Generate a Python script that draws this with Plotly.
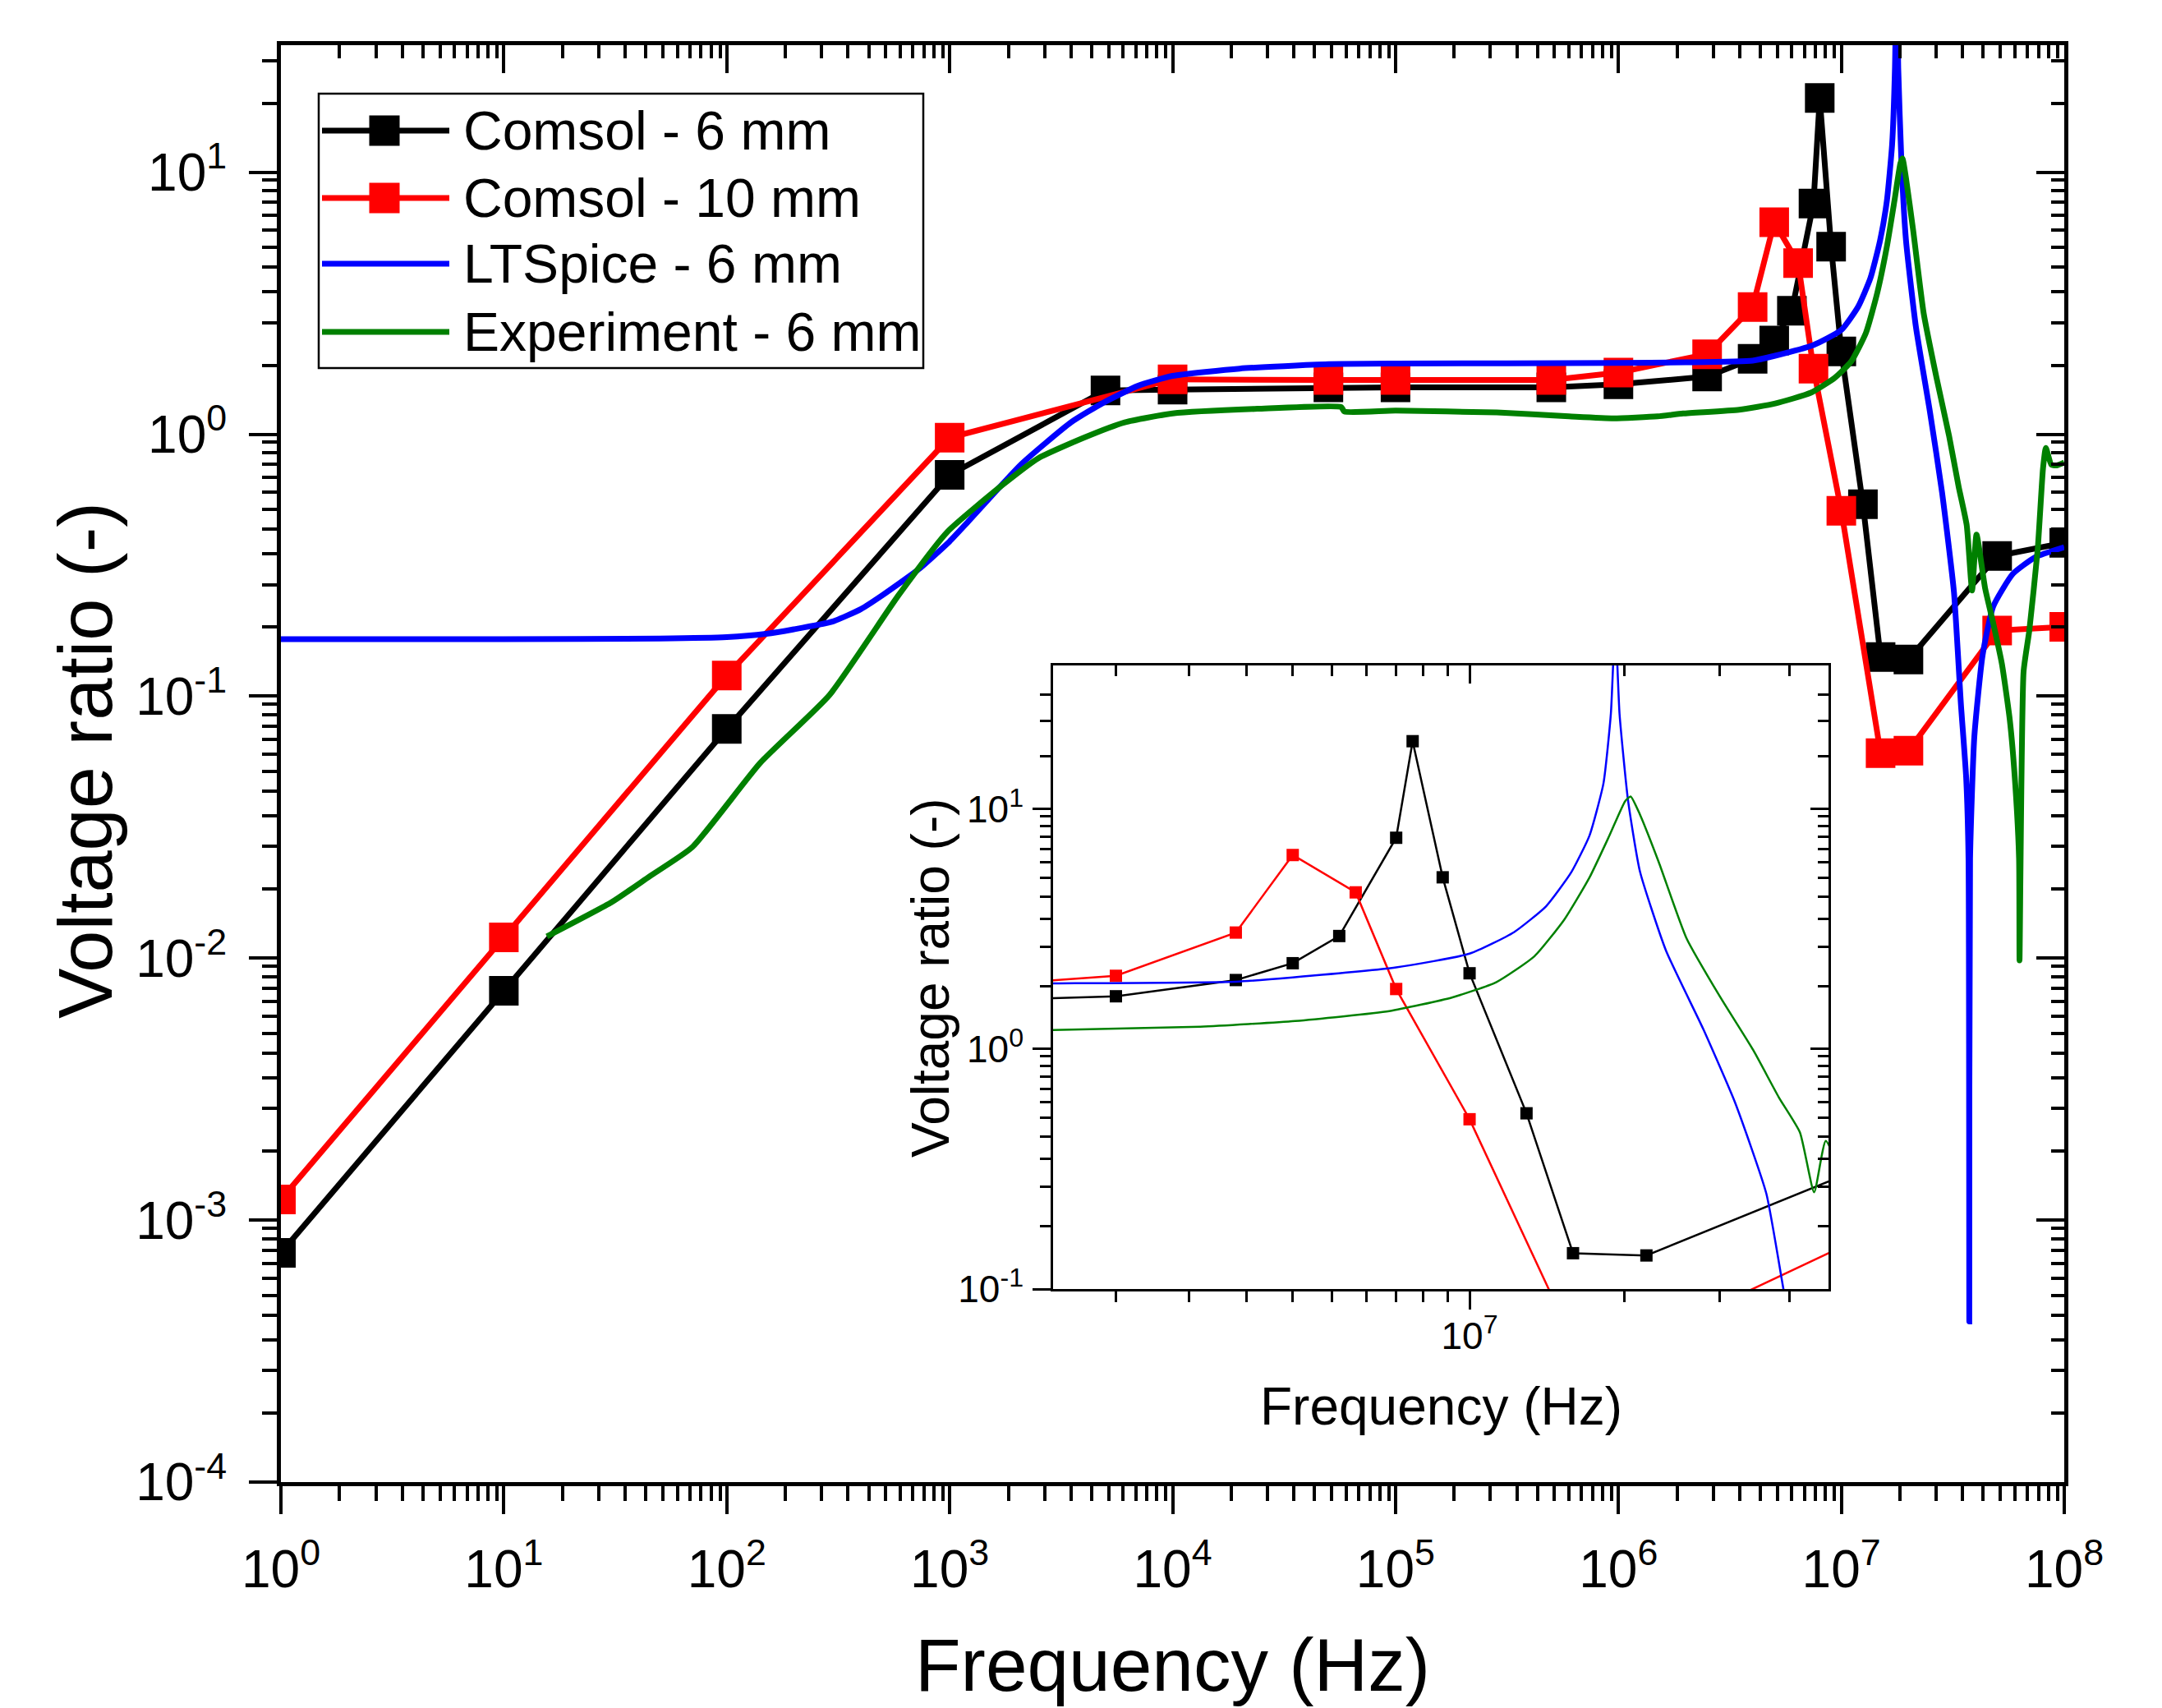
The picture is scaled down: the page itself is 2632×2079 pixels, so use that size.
import plotly.graph_objects as go

W, H = 2632, 2079

# ---------------- data ----------------
# Comsol - 6 mm
c6_freq = [1, 10, 100, 1e3, 5e3, 1e4, 5e4, 1e5, 5e5, 1e6, 2.5e6, 4e6, 5e6, 6e6,
           7.5e6, 8e6, 9e6, 1e7, 1.25e7, 1.5e7, 2e7, 5e7, 1e8]
c6_ratio = [7.5e-4, 7.5e-3, 0.075, 0.70, 1.47, 1.48, 1.51, 1.51, 1.51, 1.55, 1.66, 1.94, 2.28, 2.96,
            7.6, 19.2, 5.2, 2.07, 0.54, 0.141, 0.138, 0.343, 0.385]

# Comsol - 10 mm
c10_freq = [1, 10, 100, 1e3, 1e4, 5e4, 1e5, 5e5, 1e6, 2.5e6, 4e6, 5e6, 6.4e6, 7.5e6,
            1e7, 1.5e7, 2e7, 5e7, 1e8]
c10_ratio = [1.2e-3, 0.012, 0.12, 0.97, 1.62, 1.61, 1.61, 1.61, 1.72, 2.02, 3.06, 6.44, 4.5, 1.78,
             0.51, 0.0606, 0.0619, 0.178, 0.184]

# LTSpice - 6 mm
lt_freq = [1, 10, 50, 100, 150, 200, 300, 400, 500, 733, 1000, 1200, 2100, 3500, 4900, 7000,
           1e4, 2e4, 5e4, 1e5, 1e6, 2e6, 4e6, 5e6, 7.5e6, 1e7, 1.19e7, 1.35e7, 1.49e7, 1.6e7,
           1.69e7, 1.74e7, 1.77e7, 1.80e7, 1.86e7, 1.95e7, 2.16e7, 2.5e7, 2.83e7, 3.2e7, 3.44e7,
           3.63e7, 3.72e7, 3.75e7, 3.78e7, 3.95e7, 4.3e7, 4.8e7, 5.88e7, 7.4e7, 1e8]
lt_ratio = [0.165, 0.165, 0.166, 0.168, 0.173, 0.180, 0.193, 0.215, 0.243, 0.307, 0.39, 0.46, 0.77,
            1.11, 1.32, 1.53, 1.67, 1.78, 1.85, 1.86, 1.87, 1.88, 1.91, 1.99, 2.19, 2.5, 3.07,
            3.94, 5.46, 7.76, 12.8, 25, 60, 25, 11, 5.5, 2.57, 1.21, 0.6, 0.25, 0.093, 0.049,
            0.024, 4.1e-4, 0.024, 0.07, 0.143, 0.22, 0.293, 0.339, 0.37]

# Experiment - 6 mm
exp_freq = [15.6, 30.6, 45, 70, 141, 289, 590, 977, 1730, 2500, 4000, 6100, 1e4, 2.4e4, 5.7e4,
            5.9e4, 1e5, 2.85e5, 6e5, 9.5e5, 1.5e6, 1.95e6, 3.48e6, 5.05e6, 7.3e6, 9.33e6,
            1.11e7, 1.29e7, 1.45e7, 1.6e7, 1.73e7, 1.84e7, 1.88e7, 1.95e7, 2.1e7, 2.34e7,
            2.67e7, 3.04e7, 3.36e7, 3.65e7, 3.86e7, 4.04e7, 4.42e7, 4.8e7, 5.25e7, 5.7e7,
            6.03e7, 6.27e7, 6.3e7, 6.57e7, 6.97e7, 7.6e7, 8.03e7, 8.27e7, 8.75e7, 9.25e7, 1e8]
exp_ratio = [0.0121, 0.0164, 0.0205, 0.0265, 0.0555, 0.101, 0.243, 0.424, 0.641, 0.81, 0.97,
             1.11, 1.2, 1.25, 1.27, 1.22, 1.23, 1.21, 1.17, 1.15, 1.17, 1.2, 1.24, 1.31, 1.44,
             1.64, 1.9, 2.44, 3.47, 5.19, 7.76, 10.8, 11.3, 9.5, 6.0, 2.9, 1.65, 0.99, 0.63,
             0.45, 0.253, 0.414, 0.257, 0.19, 0.133, 0.081, 0.046, 0.024, 0.0098, 0.124,
             0.178, 0.363, 0.74, 0.886, 0.765, 0.76, 0.78]

series_names = ["Comsol - 6 mm", "Comsol - 10 mm", "LTSpice - 6 mm", "Experiment - 6 mm"]
series_colors = ["#000000", "#ff0000", "#0000ff", "#008000"]
series_markers = [True, True, False, False]
series_x = [c6_freq, c10_freq, lt_freq, exp_freq]
series_y = [c6_ratio, c10_ratio, lt_ratio, exp_ratio]

# tick values / labels
main_x_ticks = [1, 10, 100, 1e3, 1e4, 1e5, 1e6, 1e7, 1e8]
main_x_text = ["10<sup>%d</sup>" % i for i in range(0, 9)]
main_y_ticks = [1e-4, 1e-3, 1e-2, 1e-1, 1, 10]
main_y_text = ["10<sup>-4</sup>", "10<sup>-3</sup>", "10<sup>-2</sup>", "10<sup>-1</sup>",
               "10<sup>0</sup>", "10<sup>1</sup>"]
minor_steps = [1.8333, 2.6667, 3.5, 4.3333, 5.1667, 6.0, 6.8333, 7.6667, 8.5, 9.3333]
main_x_minor = [10 ** n * s for n in range(0, 8) for s in minor_steps]
main_y_minor = [10.0 ** n * s for n in range(-4, 1) for s in minor_steps] + [18.333, 26.667]

ins_x_ticks = [1e7]
ins_x_text = ["10<sup>7</sup>"]
ins_x_minor = [2.5e6, 3.333e6, 4.167e6, 5.0e6, 5.833e6, 6.667e6, 7.5e6, 8.333e6, 9.167e6,
               1.833e7, 2.667e7, 3.5e7]
ins_y_ticks = [0.1, 1, 10]
ins_y_text = ["10<sup>-1</sup>", "10<sup>0</sup>", "10<sup>1</sup>"]
ins_y_minor = [0.1833, 0.2667, 0.35, 0.4333, 0.5167, 0.6, 0.6833, 0.7667, 0.85, 0.9333,
               1.833, 2.667, 3.5, 4.333, 5.167, 6.0, 6.833, 7.667, 8.5, 9.333,
               16.67, 23.33, 30.0]

FONT = "Liberation Sans, Arial, sans-serif"


def fx(px):
    return px / W


def fy(py):
    return (H - py) / H


# layout geometry (pixels)
MAIN_L, MAIN_R, MAIN_T, MAIN_B = 342, 2513, 55, 1804
INS_L, INS_R, INS_T, INS_B = 1282, 2226, 810, 1569

fig = go.Figure()

for nm, xs, ys, col, mk in zip(series_names, series_x, series_y, series_colors, series_markers):
    fig.add_trace(go.Scatter(
        x=xs, y=ys, name=nm, mode="lines+markers" if mk else "lines",
        line=dict(color=col, width=7, shape="linear" if mk else "spline", smoothing=0.5),
        marker=dict(symbol="square", size=36, color=col),
        xaxis="x", yaxis="y", showlegend=False, hoverinfo="skip"))

for nm, xs, ys, col, mk in zip(series_names, series_x, series_y, series_colors, series_markers):
    fig.add_trace(go.Scatter(
        x=xs, y=ys, name=nm + " (inset)", mode="lines+markers" if mk else "lines",
        line=dict(color=col, width=2.5, shape="linear" if mk else "spline", smoothing=0.5),
        marker=dict(symbol="square", size=15, color=col),
        xaxis="x3", yaxis="y3", showlegend=False, hoverinfo="skip"))

# empty helper traces so the mirrored (inward tick) axes are drawn
for xa, ya in [("x2", "y"), ("x", "y2"), ("x4", "y3"), ("x3", "y4")]:
    fig.add_trace(go.Scatter(x=[], y=[], xaxis=xa, yaxis=ya, showlegend=False, hoverinfo="skip"))


def axis(**kw):
    d = dict(type="log", showgrid=False, zeroline=False, showline=True, linecolor="black",
             tickcolor="black", tickmode="array", automargin=False)
    d.update(kw)
    return d


main_xr = [0, 8]
main_yr = [-4, 1.485]
ins_xr = [6.291, 7.611]
ins_yr = [-1, 1.599]

layout_axes = dict(
    xaxis=axis(domain=[fx(MAIN_L), fx(MAIN_R)], range=main_xr, anchor="y",
               linewidth=5, ticks="outside", ticklen=34, tickwidth=4,
               tickvals=main_x_ticks, ticktext=main_x_text,
               tickfont=dict(size=64, color="black", family=FONT), ticklabelstandoff=12,
               minor=dict(tickmode="array", tickvals=main_x_minor, ticks="outside",
                          ticklen=18, tickwidth=4, tickcolor="black", showgrid=False)),
    xaxis2=axis(overlaying="x", side="top", anchor="y", range=main_xr,
                linewidth=5, ticks="inside", ticklen=34, tickwidth=4,
                tickvals=main_x_ticks, showticklabels=False,
                minor=dict(tickmode="array", tickvals=main_x_minor, ticks="inside",
                           ticklen=16, tickwidth=4, tickcolor="black", showgrid=False)),
    yaxis=axis(domain=[fy(MAIN_B), fy(MAIN_T)], range=main_yr, anchor="x",
               linewidth=5, ticks="outside", ticklen=34, tickwidth=4,
               tickvals=main_y_ticks, ticktext=main_y_text,
               tickfont=dict(size=64, color="black", family=FONT), ticklabelstandoff=14,
               minor=dict(tickmode="array", tickvals=main_y_minor, ticks="outside",
                          ticklen=18, tickwidth=4, tickcolor="black", showgrid=False)),
    yaxis2=axis(overlaying="y", side="right", anchor="x", range=main_yr,
                linewidth=5, ticks="inside", ticklen=34, tickwidth=4,
                tickvals=main_y_ticks, showticklabels=False,
                minor=dict(tickmode="array", tickvals=main_y_minor, ticks="inside",
                           ticklen=16, tickwidth=4, tickcolor="black", showgrid=False)),
    xaxis3=axis(domain=[fx(INS_L), fx(INS_R)], range=ins_xr, anchor="y3",
                linewidth=2.5, ticks="outside", ticklen=22, tickwidth=2.5,
                tickvals=ins_x_ticks, ticktext=ins_x_text,
                tickfont=dict(size=46, color="black", family=FONT), ticklabelstandoff=-7,
                minor=dict(tickmode="array", tickvals=ins_x_minor, ticks="outside",
                           ticklen=13, tickwidth=2.5, tickcolor="black", showgrid=False)),
    xaxis4=axis(overlaying="x3", side="top", anchor="y3", range=ins_xr,
                linewidth=2.5, ticks="inside", ticklen=22, tickwidth=2.5,
                tickvals=ins_x_ticks, showticklabels=False,
                minor=dict(tickmode="array", tickvals=ins_x_minor, ticks="inside",
                           ticklen=13, tickwidth=2.5, tickcolor="black", showgrid=False)),
    yaxis3=axis(domain=[fy(INS_B), fy(INS_T)], range=ins_yr, anchor="x3",
                linewidth=2.5, ticks="outside", ticklen=22, tickwidth=2.5,
                tickvals=ins_y_ticks, ticktext=ins_y_text,
                tickfont=dict(size=46, color="black", family=FONT), ticklabelstandoff=2,
                minor=dict(tickmode="array", tickvals=ins_y_minor, ticks="outside",
                           ticklen=13, tickwidth=2.5, tickcolor="black", showgrid=False)),
    yaxis4=axis(overlaying="y3", side="right", anchor="x3", range=ins_yr,
                linewidth=2.5, ticks="inside", ticklen=22, tickwidth=2.5,
                tickvals=ins_y_ticks, showticklabels=False,
                minor=dict(tickmode="array", tickvals=ins_y_minor, ticks="inside",
                           ticklen=13, tickwidth=2.5, tickcolor="black", showgrid=False)),
)

annotations = [
    dict(text="Frequency (Hz)", x=fx(1428), y=0.0, xref="paper", yref="paper",
         xanchor="center", yanchor="bottom", showarrow=False,
         font=dict(size=91, color="black", family=FONT)),
    dict(text="Voltage ratio (-)", x=fx(104), y=fy(926), xref="paper", yref="paper",
         xanchor="center", yanchor="middle", showarrow=False, textangle=-90,
         font=dict(size=92, color="black", family=FONT)),
    dict(text="Frequency (Hz)", x=fx(1754), y=fy(1712), xref="paper", yref="paper",
         xanchor="center", yanchor="middle", showarrow=False,
         font=dict(size=64, color="black", family=FONT)),
    dict(text="Voltage ratio (-)", x=fx(1133), y=fy(1190), xref="paper", yref="paper",
         xanchor="center", yanchor="middle", showarrow=False, textangle=-90,
         font=dict(size=64, color="black", family=FONT)),
]

# legend box (drawn as shapes + text so the samples match the original's long lines)
LEG_L, LEG_R, LEG_T, LEG_B = 388, 1124, 114, 448
leg_rows = [159, 241, 321, 404]
shapes = [dict(type="rect", xref="paper", yref="paper", x0=fx(LEG_L), x1=fx(LEG_R),
               y0=fy(LEG_B), y1=fy(LEG_T), line=dict(color="black", width=2.5),
               fillcolor="white", layer="above")]
for nm, col, mk, ry in zip(series_names, series_colors, series_markers, leg_rows):
    shapes.append(dict(type="line", xref="paper", yref="paper", x0=fx(392), x1=fx(547),
                       y0=fy(ry), y1=fy(ry), line=dict(color=col, width=7), layer="above"))
    if mk:
        shapes.append(dict(type="rect", xref="paper", yref="paper", x0=fx(468 - 18.5),
                           x1=fx(468 + 18.5), y0=fy(ry + 18.5), y1=fy(ry - 18.5),
                           line=dict(width=0), fillcolor=col, layer="above"))
    annotations.append(dict(text=nm, x=fx(562), y=fy(ry), xref="paper", yref="paper",
                            xanchor="left", yanchor="middle", showarrow=False,
                            font=dict(size=66, color="black", family=FONT)))

fig.update_layout(
    template="none",
    width=W, height=H, autosize=False,
    margin=dict(l=0, r=0, t=0, b=0, pad=0, autoexpand=False),
    paper_bgcolor="white", plot_bgcolor="white",
    font=dict(family=FONT, color="black"),
    showlegend=False,
    annotations=annotations, shapes=shapes,
    **layout_axes,
)

fig.write_html("out.html", config={"displayModeBar": False},
               post_script="document.body.style.margin='0px';document.body.style.overflow='hidden';")
